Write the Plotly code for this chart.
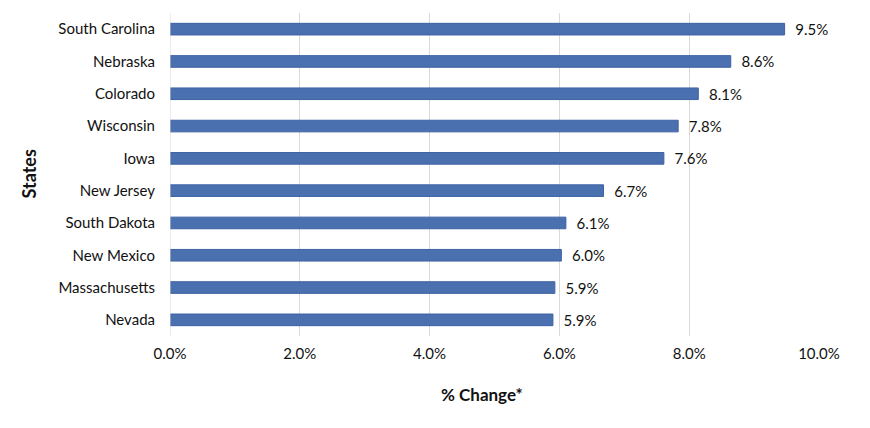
import plotly.graph_objects as go

states = ['Nevada', 'Massachusetts', 'New Mexico', 'South Dakota', 'New Jersey',
          'Iowa', 'Wisconsin', 'Colorado', 'Nebraska', 'South Carolina']
pct_change = [5.90, 5.93, 6.03, 6.10, 6.68, 7.61, 7.83, 8.14, 8.64, 9.47]
labels = ['5.9%', '5.9%', '6.0%', '6.1%', '6.7%', '7.6%', '7.8%', '8.1%', '8.6%', '9.5%']

font_name = 'Lato, Open Sans, sans-serif'

fig = go.Figure(go.Bar(
    x=pct_change, y=states, orientation='h',
    text=['  ' + t for t in labels], textposition='outside', cliponaxis=False,
    constraintext='none',
    textfont=dict(size=15, color='#111111'),
    marker=dict(color='#4a70b0', line=dict(color='#3d62a3', width=1)),
))

# page has an 8px body margin, so the figure is a little smaller than the window
fig.update_layout(
    width=862, height=420,
    margin=dict(l=162, r=51, t=5, b=92),
    plot_bgcolor='white', paper_bgcolor='white',
    font=dict(family=font_name, size=15, color='#111111'),
    bargap=0.64,
    showlegend=False,
)
fig.update_xaxes(
    range=[0, 10], dtick=2, tickformat='.1f', ticksuffix='%',
    showgrid=True, gridcolor='#d9d9d9', gridwidth=1,
    zeroline=False, showline=False, ticks='', automargin=False,
    ticklabelstandoff=7,
    tickfont=dict(size=15),
)
fig.update_yaxes(
    showgrid=False, showline=False, ticks='', ticklen=0, automargin=False,
    ticklabelstandoff=14,
    tickfont=dict(size=15),
)
fig.add_shape(type='line', xref='x', yref='paper', x0=0, x1=0, y0=0, y1=1,
              line=dict(color='#d9d9d9', width=1))
fig.add_annotation(text='<b>% Change*</b>', xref='paper', yref='paper',
                   x=0.481, y=-58 / 323, yanchor='middle', showarrow=False,
                   font=dict(size=17))
fig.add_annotation(text='<b>States</b>', xref='paper', yref='paper',
                   x=-142 / 649, y=0.5, xanchor='center', textangle=-90,
                   showarrow=False, font=dict(size=18))

fig.write_html('out.html')
